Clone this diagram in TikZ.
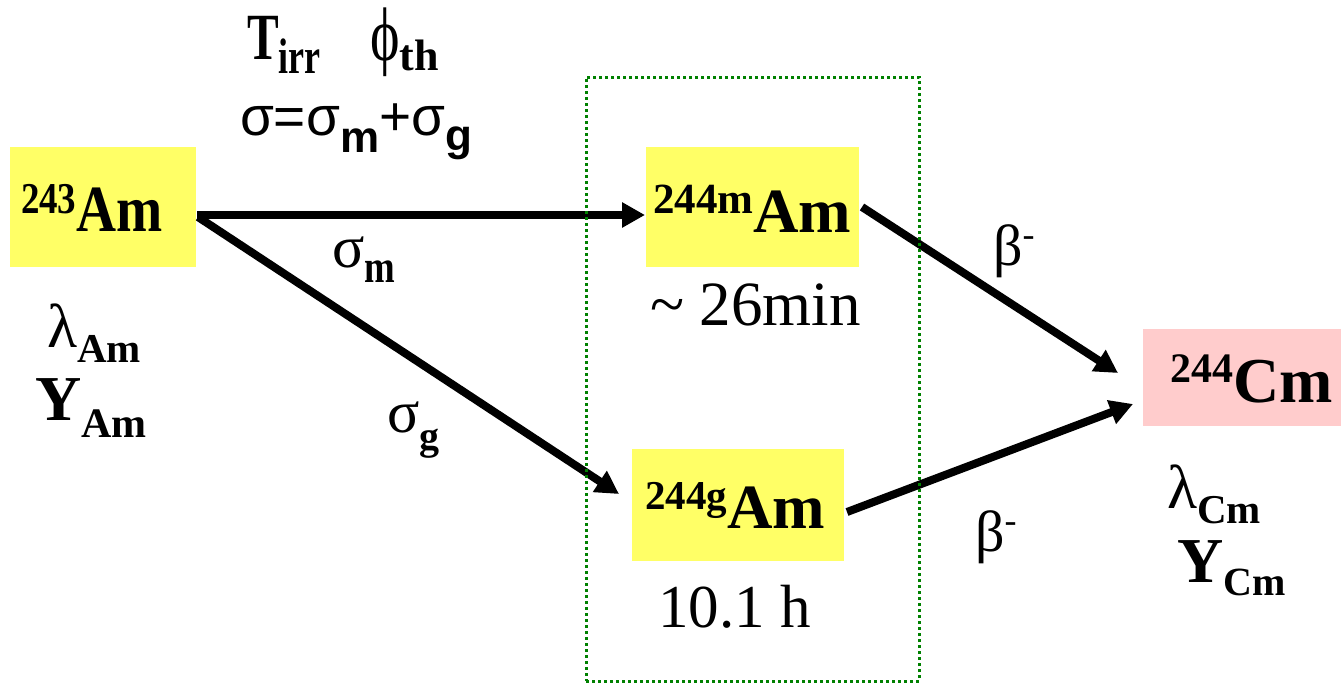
\documentclass[tikz,border=0pt]{standalone}
\usepackage{fontspec}
\setmainfont{Liberation Serif}
\newfontfamily\sansf{Liberation Sans}
\usetikzlibrary{arrows.meta,calc}
\newcommand\fsz[1]{\fontsize{#1}{#1}\selectfont}
\newcommand\narrow[2]{\scalebox{#1}[1]{#2}}
\definecolor{boxyellow}{HTML}{FFFF66}
\definecolor{boxpink}{HTML}{FFCCCC}
\definecolor{grpgreen}{HTML}{008000}
\tikzset{
  nucbox/.style={inner sep=0pt, outer sep=0pt, draw=none},
  lbl/.style={inner sep=0pt, outer sep=0pt, anchor=base west},
  flow/.style={line width=8pt, -{Triangle[length=23pt,width=24pt]}},
  grp/.style={draw=grpgreen, line width=3pt, dash pattern=on 3pt off 3pt, inner sep=0pt}
}
\begin{document}
\begin{tikzpicture}[x=1pt,y=-1pt]
\useasboundingbox (0,0) rectangle (1341,683);
% boxes
\node[nucbox, fill=boxyellow, minimum width=186pt, minimum height=120pt] (b243) at (103,207) {};
\node[nucbox, fill=boxyellow, minimum width=213pt, minimum height=120pt] (b244m) at (752.5,207) {};
\node[nucbox, fill=boxyellow, minimum width=212pt, minimum height=112pt] (b244g) at (738,505) {};
\node[nucbox, fill=boxpink, minimum width=198pt, minimum height=97pt] (bcm) at (1242,377.5) {};
% box texts
\node[lbl] (t243) at (21,231) {\narrow{0.84}{\bfseries\raisebox{18pt}{\fsz{44}243}\fsz{66}Am}};
\node[lbl] (t244m) at (653,232) {\bfseries\raisebox{19pt}{\fsz{43}244m}\fsz{63}Am};
\node[lbl] (t244g) at (645,528) {\bfseries\raisebox{19pt}{\fsz{41}244g}\fsz{63}Am};
\node[lbl] (tcm) at (1170,402) {\bfseries\raisebox{20pt}{\fsz{42}244}\fsz{64}Cm};
% half-lives
\node[lbl] (hl1) at (650,325) {\fsz{63}\char"007E{} 26min};
\node[lbl] (hl2) at (658,627) {\fsz{61}10.1 h};
% top labels
\node[lbl] (tirr) at (247,59) {\narrow{0.72}{\bfseries\fsz{66}T\raisebox{-14pt}{\fsz{50}irr}}};
\node[lbl] (phith) at (370,60) {\scalebox{0.85}[1.15]{\fsz{66}ϕ}\raisebox{-10pt}{\bfseries\fsz{44}th}};
\node[lbl] (sigeq) at (240,135) {\sansf\fsz{55}σ=σ\raisebox{-17pt}{\fsz{44}\bfseries m}+σ\raisebox{-15pt}{\fsz{44}\bfseries g}};
% arrow labels
\node[lbl] (sm) at (332,267) {\fsz{60}σ\raisebox{-15pt}{\narrow{0.8}{\fsz{46}\bfseries m}}};
\node[lbl] (sg) at (387,432) {\fsz{60}σ\raisebox{-17pt}{\fsz{40}\bfseries g}};
\node[lbl] (beta1) at (993,265) {\fsz{58}β\raisebox{19pt}{\fsz{36}-}};
\node[lbl] (beta2) at (975,551) {\fsz{58}β\raisebox{19pt}{\fsz{36}-}};
% decay constants and yields
\node[lbl] (lam) at (47,347) {\fsz{62}λ\raisebox{-15pt}{\fsz{41}\bfseries Am}};
\node[lbl] (yam) at (35,420) {\bfseries\fsz{64}Y\raisebox{-17pt}{\fsz{42}Am}};
\node[lbl] (lcm) at (1167,508) {\fsz{62}λ\raisebox{-15pt}{\fsz{41}\bfseries Cm}};
\node[lbl] (ycm) at (1177,582) {\bfseries\fsz{64}Y\raisebox{-13pt}{\fsz{40}Cm}};
% arrows
\draw[flow] ($(b243.east)+(1,8)$) -- ($(b244m.west)+(-1,8)$);
\draw[flow] ($(b243.east)+(2,10)$) -- ($(b244g.west)+(-13,-11)$);
\draw[flow] ($(b244m.east)+(3,0)$) -- ($(bcm.west)+(-25,-4.5)$);
\draw[flow] ($(b244g.east)+(3,7)$) -- ($(bcm.west)+(-10,26.5)$);
% dotted group
\node[grp, minimum width=333pt, minimum height=604pt] (group) at (752.5,379) {};
\end{tikzpicture}
\end{document}
